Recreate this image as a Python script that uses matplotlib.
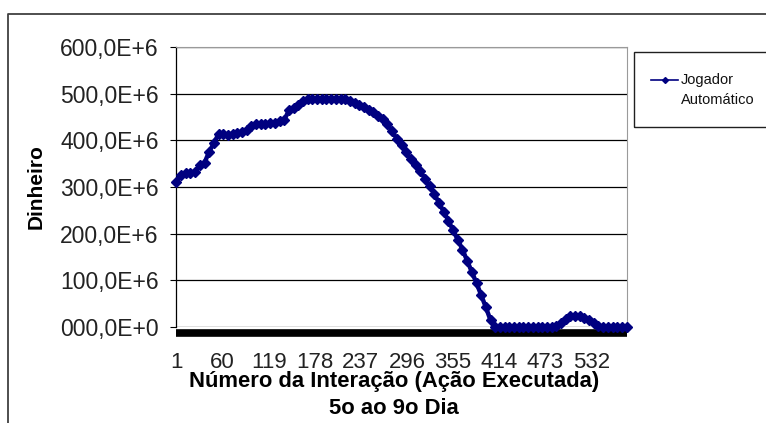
import numpy as np
import matplotlib
matplotlib.use("Agg")
import matplotlib.pyplot as plt
from matplotlib.lines import Line2D
from matplotlib.patches import Rectangle

plt.rcParams["font.family"] = ["Liberation Sans", "DejaVu Sans"]

# category index of each plotted sample (interaction number)
n_categories = 577
interactions = np.arange(1, 578, 6)
# money, in millions
money_millions = [
    310, 326, 331, 330, 332, 347, 352, 376, 394, 414,
    413, 412, 413, 415, 418, 422, 430, 434, 435, 436,
    437, 438, 441, 444, 464, 470, 475, 485, 488, 489,
    489, 489, 488, 488, 488, 488, 488, 484, 480, 475,
    471, 466, 461, 453, 445, 434, 420, 403, 390, 374,
    360, 347, 334, 318, 302, 285, 266, 247, 228, 207,
    187, 166, 142, 118, 94, 68, 42, 14, 0, 0,
    0, 0, 0, 0, 0, 0, 0, 0, 0, 0,
    0, 3, 9, 18, 23, 23, 23, 20, 15, 9,
    3, 0, 0, 0, 0, 0, 0,
]
assert len(money_millions) == len(interactions)

x_tick_labels = [1, 60, 119, 178, 237, 296, 355, 414, 473, 532]
y_ticks = [0, 100, 200, 300, 400, 500, 600]
y_tick_labels = ["000,0E+0", "100,0E+6", "200,0E+6", "300,0E+6",
                 "400,0E+6", "500,0E+6", "600,0E+6"]
series_name = "Jogador\nAutomático"
navy = "#000080"

W, H = 766, 423
fig = plt.figure(figsize=(W / 100, H / 100), dpi=100)
ax = fig.add_axes([176 / W, 1 - 327 / H, 451 / W, 280 / H])

ax.plot(interactions, money_millions, color=navy, lw=3.2,
        marker="D", markersize=5.2, zorder=5, clip_on=False)

ax.set_xlim(0.5, n_categories + 0.5)
ax.set_ylim(0, 600)
ax.set_yticks(y_ticks)
ax.set_yticklabels(y_tick_labels)
ax.set_xticks(x_tick_labels)
ax.set_xticklabels([str(v) for v in x_tick_labels])
ax.tick_params(axis="y", length=4.5, width=0.8, direction="out", pad=8,
               labelsize=16.5, labelcolor="#222222")
ax.tick_params(axis="x", length=0, pad=14, labelsize=16, labelcolor="#222222")

ax.yaxis.grid(True, color="black", lw=0.9)
ax.set_axisbelow(True)
ax.spines["top"].set_color("#9a9a9a")
ax.spines["right"].set_color("#9a9a9a")
ax.spines["left"].set_linewidth(0.9)
ax.spines["bottom"].set_linewidth(5.5)
ax.spines["bottom"].set_position(("outward", 4))
ax.spines["bottom"].set_capstyle("butt")

ax.set_xlabel("Número da Interação (Ação Executada)\n5o ao 9o Dia",
              fontsize=15.8, fontweight="bold", linespacing=1.35)
ax.xaxis.set_label_coords(0.483, -0.158)
ax.set_ylabel("Dinheiro", fontsize=15, fontweight="bold")
ax.yaxis.set_label_coords(-0.29, 0.5)

# chart area frame (left and top edges visible)
fig.add_artist(Line2D([8 / W, 8 / W, 1.0], [0.0, 1 - 14 / H, 1 - 14 / H],
                      color="#404040", lw=1.3, transform=fig.transFigure))

# legend
fig.add_artist(Rectangle((634 / W, 1 - 127 / H), 200 / W, 75 / H,
                         transform=fig.transFigure, fill=False,
                         edgecolor="#202020", lw=1.0))
fig.add_artist(Line2D([651 / W, 664.5 / W, 678 / W], [1 - 80 / H] * 3,
                      color=navy, lw=1.2, marker="D", markersize=3,
                      markevery=[1], transform=fig.transFigure))
fig.text(681 / W, 1 - 80 / H, series_name.split("\n")[0], fontsize=10.5,
         va="center", ha="left", color="#111111")
fig.text(681 / W, 1 - 100 / H, series_name.split("\n")[1], fontsize=10.5,
         va="center", ha="left", color="#111111")

fig.savefig("out.png", dpi=100, facecolor="white")
